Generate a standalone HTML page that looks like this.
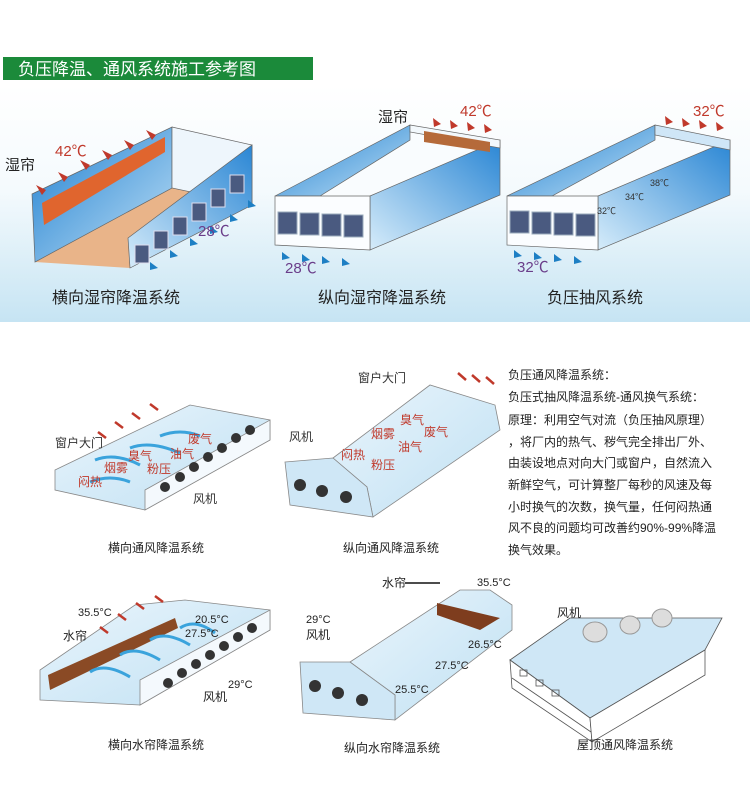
<!DOCTYPE html>
<html><head><meta charset="utf-8"><style>
html,body{margin:0;padding:0;background:#fff}
svg{display:block}
text{font-family:"Liberation Sans","Noto Sans CJK SC",sans-serif}
</style></head><body>
<svg width="750" height="790" viewBox="0 0 750 790" xmlns="http://www.w3.org/2000/svg">
<defs>
<linearGradient id="bg" x1="0" y1="0" x2="0" y2="1">
<stop offset="0" stop-color="#ffffff"/><stop offset="0.45" stop-color="#f4fafd"/><stop offset="1" stop-color="#c6e4f3"/>
</linearGradient>
<linearGradient id="wall" x1="0" y1="0" x2="1" y2="1">
<stop offset="0" stop-color="#1e7fd0"/><stop offset="1" stop-color="#bfe0f6"/>
</linearGradient>
<linearGradient id="wall2" x1="1" y1="0" x2="0" y2="1">
<stop offset="0" stop-color="#2a86d4"/><stop offset="1" stop-color="#d6ecfa"/>
</linearGradient>
<linearGradient id="lb" x1="0" y1="0" x2="1" y2="1">
<stop offset="0" stop-color="#eaf5fc"/><stop offset="1" stop-color="#bfe0f3"/>
</linearGradient>
</defs>
<rect x="0" y="85" width="750" height="237" fill="url(#bg)"/>
<rect x="3" y="57" width="310" height="23" fill="#1b8a3a"/>
<text x="18" y="75" font-size="17" fill="#fff">负压降温、通风系统施工参考图</text>

<!-- Panel 1 -->
<polygon points="35,262 172,188 252,205 130,268" fill="#e9b489"/>
<polygon points="32,194 172,127 172,188 35,262" fill="url(#wall)" stroke="#666" stroke-width="0.7"/>
<polygon points="42,203 165,137 165,152 44,225" fill="#e0652e"/>
<polygon points="172,127 252,145 252,205 172,188" fill="#eef6fc" stroke="#666" stroke-width="0.7"/>
<polygon points="128,238 252,145 252,205 130,268" fill="url(#wall2)" stroke="#666" stroke-width="0.7"/>
<g fill="#4a5a80" stroke="#dde" stroke-width="1">
<rect x="135" y="245" width="14" height="18"/><rect x="154" y="231" width="14" height="18"/><rect x="173" y="217" width="14" height="18"/><rect x="192" y="203" width="14" height="18"/><rect x="211" y="189" width="14" height="18"/><rect x="230" y="175" width="14" height="18"/></g>
<g fill="#c0392b"><polygon points="36,185 46,190 42,195"/><polygon points="58,172 68,177 64,182"/><polygon points="80,160 90,165 86,170"/><polygon points="102,150 112,155 108,160"/><polygon points="124,140 134,145 130,150"/><polygon points="146,130 156,135 152,140"/></g>
<g fill="#1d7fc4"><polygon points="150,262 158,268 150,270"/><polygon points="170,250 178,256 170,258"/><polygon points="190,238 198,244 190,246"/><polygon points="210,226 218,232 210,234"/><polygon points="230,214 238,220 230,222"/><polygon points="248,200 256,206 248,208"/></g>
<text x="55" y="156" font-size="15" fill="#c0392b">42℃</text>
<text x="5" y="170" font-size="15" fill="#222">湿帘</text>
<text x="198" y="236" font-size="15" fill="#6a3d8a">28℃</text>
<text x="52" y="303" font-size="16" fill="#222">横向湿帘降温系统</text>

<!-- Panel 2 -->
<polygon points="275,196 410,125 500,140 370,196" fill="#f9fcfe"/>
<polygon points="275,196 410,125 410,140 320,196" fill="url(#wall)" stroke="#666" stroke-width="0.7"/>
<polygon points="370,196 500,140 500,195 370,250" fill="url(#wall2)" stroke="#666" stroke-width="0.7"/>
<polygon points="410,125 500,140 500,148 410,132" fill="#f2f8fc" stroke="#666" stroke-width="0.7"/>
<polygon points="424,131 490,142 490,152 424,142" fill="#b56a3a"/>
<polygon points="275,196 370,196 370,250 275,245" fill="#fbfdff" stroke="#666" stroke-width="0.7"/>
<g fill="#4a5a80" stroke="#9ab" stroke-width="1"><rect x="278" y="212" width="19" height="22"/><rect x="300" y="213" width="19" height="22"/><rect x="322" y="214" width="19" height="22"/><rect x="344" y="215" width="19" height="22"/></g>
<g fill="#1d7fc4"><polygon points="282,252 290,258 282,260"/><polygon points="302,254 310,260 302,262"/><polygon points="322,256 330,262 322,264"/><polygon points="342,258 350,264 342,266"/></g>
<g fill="#c0392b"><polygon points="433,118 441,124 434,127"/><polygon points="450,120 458,126 451,129"/><polygon points="467,122 475,128 468,131"/><polygon points="484,124 492,130 485,133"/></g>
<text x="460" y="116" font-size="15" fill="#c0392b">42℃</text>
<text x="378" y="122" font-size="15" fill="#222">湿帘</text>
<text x="285" y="273" font-size="15" fill="#6a3d8a">28℃</text>
<text x="318" y="303" font-size="16" fill="#222">纵向湿帘降温系统</text>

<!-- Panel 3 -->
<polygon points="507,196 655,125 730,140 598,196" fill="#f9fcfe"/>
<polygon points="507,196 655,125 655,140 552,196" fill="url(#wall)" stroke="#666" stroke-width="0.7"/>
<polygon points="598,196 730,140 730,195 598,250" fill="url(#wall2)" stroke="#666" stroke-width="0.7"/>
<polygon points="655,125 730,140 730,150 655,135" fill="#cfe6f7" stroke="#666" stroke-width="0.7"/>
<polygon points="507,196 598,196 598,250 507,245" fill="#fbfdff" stroke="#666" stroke-width="0.7"/>
<g fill="#4a5a80" stroke="#9ab" stroke-width="1"><rect x="510" y="211" width="19" height="22"/><rect x="532" y="212" width="19" height="22"/><rect x="554" y="213" width="19" height="22"/><rect x="576" y="214" width="19" height="22"/></g>
<g fill="#1d7fc4"><polygon points="514,250 522,256 514,258"/><polygon points="534,252 542,258 534,260"/><polygon points="554,254 562,260 554,262"/><polygon points="574,256 582,262 574,264"/></g>
<g fill="#c0392b"><polygon points="665,116 673,122 666,125"/><polygon points="682,118 690,124 683,127"/><polygon points="699,120 707,126 700,129"/><polygon points="716,122 724,128 717,131"/></g>
<text x="693" y="116" font-size="15" fill="#c0392b">32℃</text>
<text x="597" y="214" font-size="9" fill="#333">32℃</text>
<text x="625" y="200" font-size="9" fill="#333">34℃</text>
<text x="650" y="186" font-size="9" fill="#333">38℃</text>
<text x="517" y="272" font-size="15" fill="#6a3d8a">32℃</text>
<text x="547" y="303" font-size="16" fill="#222">负压抽风系统</text>

<!-- Bottom left 1 -->
<polygon points="55,470 190,405 270,420 270,440 145,510 55,490" fill="url(#lb)" stroke="#888" stroke-width="0.8"/>
<polygon points="145,490 270,420 270,440 145,510" fill="#f4f9fd" stroke="#888" stroke-width="0.8"/>
<g fill="#333"><circle cx="165" cy="487" r="5"/><circle cx="180" cy="477" r="5"/><circle cx="194" cy="467" r="5"/><circle cx="208" cy="457" r="5"/><circle cx="222" cy="448" r="5"/><circle cx="236" cy="438" r="5"/><circle cx="250" cy="430" r="5"/></g>
<g stroke="#c0392b" stroke-width="2.5"><line x1="98" y1="432" x2="106" y2="438"/><line x1="115" y1="422" x2="123" y2="428"/><line x1="132" y1="413" x2="140" y2="419"/><line x1="150" y1="404" x2="158" y2="410"/></g>
<g stroke="#3aa3dc" stroke-width="3" fill="none"><path d="M90,482 q20,-8 40,0"/><path d="M95,460 q20,-8 45,5"/><path d="M130,448 q20,-8 50,5"/><path d="M160,436 q20,-8 40,0"/></g>
<g fill="#c0392b" font-size="12"><text x="78" y="486">闷热</text><text x="104" y="472">烟雾</text><text x="128" y="460">臭气</text><text x="147" y="473">粉压</text><text x="170" y="458">油气</text><text x="188" y="443">废气</text></g>
<text x="55" y="447" font-size="12" fill="#333">窗户大门</text>
<text x="193" y="503" font-size="12" fill="#333">风机</text>
<text x="108" y="552" font-size="12" fill="#222">横向通风降温系统</text>

<!-- Bottom 2 -->
<polygon points="333,458 430,385 495,405 500,430 373,517 367,487" fill="url(#lb)" stroke="#888" stroke-width="0.8"/>
<polygon points="285,462 333,458 367,487 373,517 290,505" fill="#cfe7f6" stroke="#888" stroke-width="0.8"/>
<g fill="#333"><circle cx="300" cy="485" r="6"/><circle cx="322" cy="491" r="6"/><circle cx="346" cy="497" r="6"/></g>
<g stroke="#c0392b" stroke-width="2.5"><line x1="458" y1="373" x2="466" y2="380"/><line x1="472" y1="375" x2="480" y2="382"/><line x1="486" y1="377" x2="494" y2="384"/></g>
<g fill="#c0392b" font-size="12"><text x="341" y="459">闷热</text><text x="371" y="438">烟雾</text><text x="400" y="424">臭气</text><text x="424" y="436">废气</text><text x="398" y="451">油气</text><text x="371" y="469">粉压</text></g>
<text x="289" y="441" font-size="12" fill="#333">风机</text>
<text x="358" y="382" font-size="12" fill="#333">窗户大门</text>
<text x="343" y="552" font-size="12" fill="#222">纵向通风降温系统</text>

<!-- text block -->
<g font-size="12" fill="#222">
<text x="508" y="379">负压通风降温系统：</text>
<text x="508" y="401">负压式抽风降温系统-通风换气系统：</text>
<text x="508" y="424">原理：利用空气对流（负压抽风原理）</text>
<text x="508" y="446">，将厂内的热气、秽气完全排出厂外、</text>
<text x="508" y="467">由装设地点对向大门或窗户，自然流入</text>
<text x="508" y="489">新鲜空气，可计算整厂每秒的风速及每</text>
<text x="508" y="511">小时换气的次数，换气量，任何闷热通</text>
<text x="508" y="532">风不良的问题均可改善约90%-99%降温</text>
<text x="508" y="554">换气效果。</text>
</g>

<!-- Bottom 3 -->
<polygon points="40,670 135,605 185,600 270,610 270,630 140,705 40,700" fill="url(#lb)" stroke="#888" stroke-width="0.8"/>
<polygon points="140,680 270,610 270,630 140,705" fill="#f4f9fd" stroke="#888" stroke-width="0.8"/>
<polygon points="48,675 175,618 178,628 50,690" fill="#8a4a25"/>
<g fill="#333"><circle cx="168" cy="683" r="5"/><circle cx="182" cy="673" r="5"/><circle cx="196" cy="664" r="5"/><circle cx="210" cy="655" r="5"/><circle cx="224" cy="646" r="5"/><circle cx="238" cy="637" r="5"/><circle cx="252" cy="628" r="5"/></g>
<g stroke="#3aa3dc" stroke-width="3" fill="none"><path d="M90,672 q15,-10 40,5"/><path d="M120,655 q15,-10 40,5"/><path d="M150,640 q15,-10 40,5"/><path d="M180,628 q15,-10 35,5"/></g>
<g stroke="#c0392b" stroke-width="2.5"><line x1="100" y1="627" x2="108" y2="633"/><line x1="118" y1="614" x2="126" y2="620"/><line x1="136" y1="603" x2="144" y2="609"/><line x1="155" y1="596" x2="163" y2="602"/></g>
<text x="78" y="616" font-size="11" fill="#222">35.5°C</text>
<text x="195" y="623" font-size="11" fill="#222">20.5°C</text>
<text x="185" y="637" font-size="11" fill="#222">27.5°C</text>
<text x="228" y="688" font-size="11" fill="#222">29°C</text>
<text x="63" y="640" font-size="12" fill="#222">水帘</text>
<text x="203" y="701" font-size="12" fill="#222">风机</text>
<text x="108" y="749" font-size="12" fill="#222">横向水帘降温系统</text>

<!-- Bottom 4 -->
<polygon points="350,662 460,590 490,590 512,605 512,630 395,720 395,695" fill="url(#lb)" stroke="#888" stroke-width="0.8"/>
<polygon points="300,662 350,662 395,695 395,720 303,713" fill="#cfe7f6" stroke="#888" stroke-width="0.8"/>
<polygon points="437,603 500,618 480,630 437,615" fill="#7e3d1e"/>
<g fill="#333"><circle cx="315" cy="686" r="6"/><circle cx="338" cy="693" r="6"/><circle cx="362" cy="700" r="6"/></g>
<text x="477" y="586" font-size="11" fill="#222">35.5°C</text>
<text x="468" y="648" font-size="11" fill="#222">26.5°C</text>
<text x="435" y="669" font-size="11" fill="#222">27.5°C</text>
<text x="395" y="693" font-size="11" fill="#222">25.5°C</text>
<text x="306" y="623" font-size="11" fill="#222">29°C</text>
<text x="306" y="639" font-size="12" fill="#222">风机</text>
<text x="382" y="587" font-size="12" fill="#222">水帘</text>
<line x1="405" y1="583" x2="440" y2="583" stroke="#111" stroke-width="1.5"/>
<text x="344" y="752" font-size="12" fill="#222">纵向水帘降温系统</text>

<!-- Bottom 5 -->
<polygon points="510,660 570,618 722,618 705,650 590,718" fill="#cfe7f6" stroke="#555" stroke-width="0.8"/>
<polygon points="510,660 590,718 592,742 512,688" fill="#fff" stroke="#555" stroke-width="0.8"/>
<polygon points="590,718 705,650 705,675 592,742" fill="#fff" stroke="#555" stroke-width="0.8"/>
<g fill="none" stroke="#555" stroke-width="0.8"><rect x="520" y="670" width="7" height="6"/><rect x="536" y="680" width="7" height="6"/><rect x="552" y="690" width="7" height="6"/><line x1="512" y1="678" x2="591" y2="732"/></g>
<g fill="#ddd" stroke="#999"><ellipse cx="595" cy="632" rx="12" ry="10"/><ellipse cx="630" cy="625" rx="10" ry="9"/><ellipse cx="662" cy="618" rx="10" ry="9"/></g>
<text x="557" y="617" font-size="12" fill="#222">风机</text>
<text x="577" y="749" font-size="12" fill="#222">屋顶通风降温系统</text>
</svg>
</body></html>
